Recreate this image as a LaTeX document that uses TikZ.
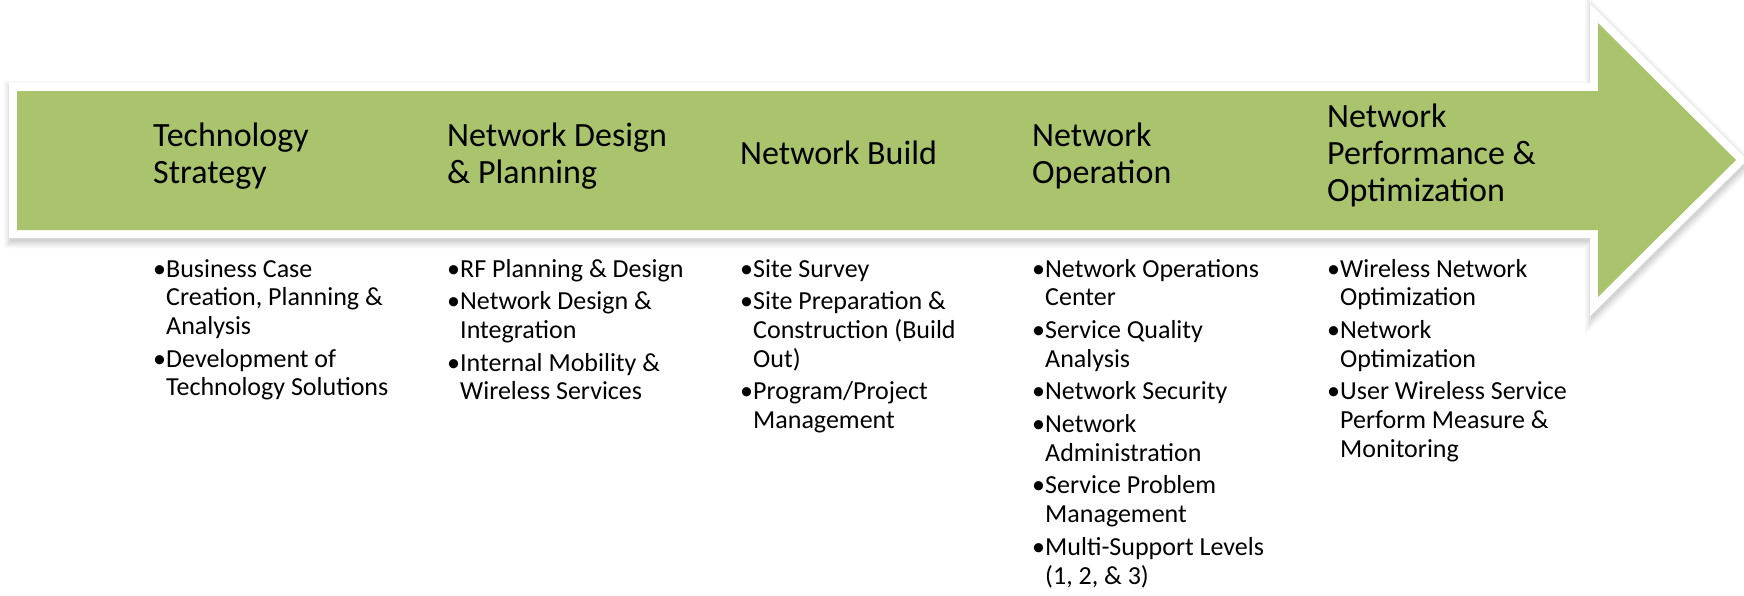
\documentclass[tikz,border=0pt]{standalone}
\usepackage{fontspec}
\setmainfont{Carlito}
\definecolor{arrowgreen}{RGB}{170,196,110}
\newcommand\bitem[1]{\par\noindent\hangindent=13pt\hangafter=1\makebox[13pt][l]{•}#1}
\begin{document}
\begin{tikzpicture}[x=1pt,y=-1pt,
  arrowshape/.style={insert path={(17,91) -- (1598,91) -- (1598,23) -- (1736,160) -- (1598,297) -- (1598,230) -- (17,230) -- cycle}},
  title/.style={anchor=base west, inner sep=0pt, font=\fontsize{34}{37}\selectfont},
  bullets/.style={anchor=base west, inner sep=0pt, font=\fontsize{26}{28.7}\selectfont}]
\useasboundingbox (0,0) rectangle (1744,595);
% soft shadow
\foreach \w/\o in {28/0.03, 24/0.04, 20/0.05, 16/0.06} {
  \draw[black, opacity=\o, line width=\w pt, line join=miter, shift={(1,4)}, arrowshape];
}
% white border and green arrow
\draw[white, fill=white, line width=16pt, line join=miter, arrowshape];
\fill[arrowgreen, arrowshape];
% titles
\node[title] (t1) at (153,146) {\parbox[t]{280pt}{Technology\\Strategy}};
\node[title] (t2) at (447,146) {\parbox[t]{280pt}{Network Design\\\& Planning}};
\node[title] (t3) at (740,164) {\parbox[t]{280pt}{Network Build}};
\node[title] (t4) at (1032,146) {\parbox[t]{280pt}{Network\\Operation}};
\node[title] (t5) at (1327,127) {\parbox[t]{280pt}{Network\\Performance \&\\Optimization}};
% bullet lists
\node[bullets] (l1) at (153,277) {\parbox[t]{280pt}{\parskip=4pt
  \bitem{Business Case\\Creation, Planning \&\\Analysis}
  \bitem{Development of\\Technology Solutions}}};
\node[bullets] (l2) at (447,277) {\parbox[t]{280pt}{\parskip=4pt
  \bitem{RF Planning \& Design}
  \bitem{Network Design \&\\Integration}
  \bitem{Internal Mobility \&\\Wireless Services}}};
\node[bullets] (l3) at (740,277) {\parbox[t]{280pt}{\parskip=4pt
  \bitem{Site Survey}
  \bitem{Site Preparation \&\\Construction (Build\\Out)}
  \bitem{Program/Project\\Management}}};
\node[bullets] (l4) at (1032,277) {\parbox[t]{280pt}{\parskip=4pt
  \bitem{Network Operations\\Center}
  \bitem{Service Quality\\Analysis}
  \bitem{Network Security}
  \bitem{Network\\Administration}
  \bitem{Service Problem\\Management}
  \bitem{Multi-Support Levels\\(1, 2, \& 3)}}};
\node[bullets] (l5) at (1327,277) {\parbox[t]{280pt}{\parskip=4pt
  \bitem{Wireless Network\\Optimization}
  \bitem{Network\\Optimization}
  \bitem{User Wireless Service\\Perform Measure \&\\Monitoring}}};
\end{tikzpicture}
\end{document}
